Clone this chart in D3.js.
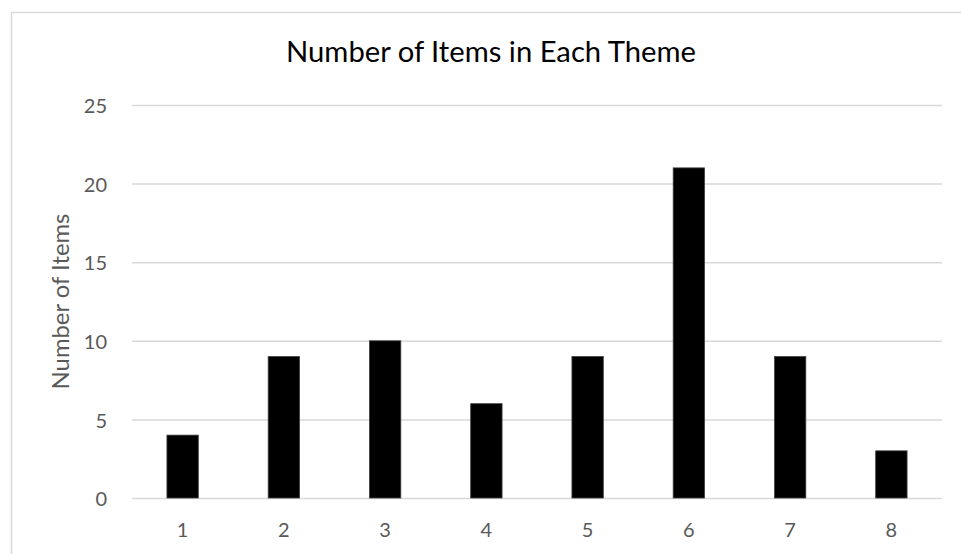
<!DOCTYPE html>
<html>
<head>
<meta charset="utf-8">
<script src="https://cdn.jsdelivr.net/npm/d3@7"></script>
<style>
  html, body { margin: 0; padding: 0; background: #fff; }
  svg { display: block; }
  text { font-family: Lato, "Open Sans", sans-serif; }
</style>
</head>
<body>
<svg id="chart" width="961" height="554"></svg>
<script>
// Chart data
const themes = ["1", "2", "3", "4", "5", "6", "7", "8"];
const itemCounts = [4, 9, 10, 6, 9, 21, 9, 3];
const yTicks = [0, 5, 10, 15, 20, 25];
const chartTitle = "Number of Items in Each Theme";
const yAxisTitle = "Number of Items";

const svg = d3.select("#chart");

// Plot area
const plot = { left: 132, right: 942, top: 105, bottom: 498 };

// Outer chart frame (extends slightly past the window on the right and bottom)
svg.append("rect")
  .attr("x", 11.5).attr("y", 12.5)
  .attr("width", 960).attr("height", 560)
  .attr("fill", "#fff")
  .attr("stroke", "#d9d9d9")
  .attr("stroke-width", 1.5);

const x = d3.scaleBand()
  .domain(themes)
  .range([plot.left, plot.right])
  .paddingInner(0.69)
  .paddingOuter(0.345);

const y = d3.scaleLinear()
  .domain([0, 25])
  .range([plot.bottom, plot.top]);

// Horizontal gridlines with value labels
const yAxis = d3.axisLeft(y)
  .tickValues(yTicks)
  .tickSize(-(plot.right - plot.left))
  .tickPadding(25)
  .tickFormat(d3.format("d"));

const gy = svg.append("g")
  .attr("transform", `translate(${plot.left},0)`)
  .call(yAxis);
gy.select(".domain").remove();
gy.selectAll(".tick line")
  .attr("stroke", "#d9d9d9")
  .attr("stroke-width", 1.5);
gy.selectAll(".tick text")
  .attr("fill", "#595959")
  .attr("font-size", 20)
  .attr("dy", "0.38em");

// Bars
svg.append("g")
  .selectAll("rect")
  .data(themes.map((t, i) => ({ theme: t, value: itemCounts[i] })))
  .join("rect")
  .attr("x", d => x(d.theme))
  .attr("y", d => y(d.value))
  .attr("width", x.bandwidth())
  .attr("height", d => y(0) - y(d.value))
  .attr("fill", "#000")
  .attr("stroke", "#404040")
  .attr("stroke-width", 0.8);

// Category axis labels
const xAxis = d3.axisBottom(x).tickSize(0).tickPadding(32);
const gx = svg.append("g")
  .attr("transform", `translate(0,${plot.bottom})`)
  .call(xAxis);
gx.select(".domain").remove();
gx.selectAll(".tick text")
  .attr("fill", "#595959")
  .attr("font-size", 20)
  .attr("dy", "0.36em");

// Fit a text element to a target width by adjusting its font size
function fitWidth(sel, target) {
  const w = sel.node().getComputedTextLength();
  const fs = parseFloat(sel.attr("font-size"));
  sel.attr("font-size", fs * target / w);
}

// Title
const title = svg.append("text")
  .attr("x", 491)
  .attr("y", 62)
  .attr("text-anchor", "middle")
  .attr("fill", "#000")
  .attr("font-size", 28)
  .text(chartTitle);
fitWidth(title, 410);

// Y axis title
const yTitle = svg.append("text")
  .attr("transform", `translate(69,${(plot.top + plot.bottom) / 2}) rotate(-90)`)
  .attr("text-anchor", "middle")
  .attr("fill", "#595959")
  .attr("font-size", 20)
  .text(yAxisTitle);
fitWidth(yTitle, 176);
</script>
</body>
</html>
